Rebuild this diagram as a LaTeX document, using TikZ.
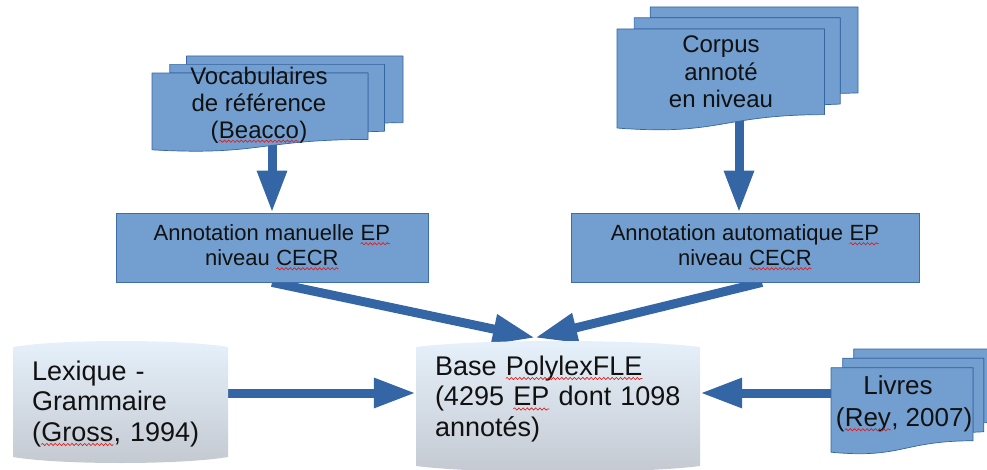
\documentclass[tikz,border=0pt]{standalone}
\usepackage{fontspec}
\setmainfont{Liberation Sans}
\usetikzlibrary{arrows.meta,decorations.pathmorphing}
\pgfdeclarelayer{bg}
\pgfsetlayers{bg,main}
\definecolor{docfill}{HTML}{729FCF}
\definecolor{docline}{HTML}{3465A4}
\definecolor{arrowblue}{HTML}{3465A4}
\definecolor{cantop}{HTML}{E6F1FB}
\definecolor{canbot}{HTML}{C4C9D1}
\definecolor{txt}{HTML}{111111}
\definecolor{squig}{HTML}{E01B1B}
\tikzset{
  sqline/.style={draw=squig, line width=0.65pt, decorate, decoration={snake, amplitude=1.1pt, segment length=4.2pt}},
  docshape/.style={fill=docfill, draw=docline, line width=0.7pt, line join=round},
  boxnode/.style={shape=rectangle, fill=docfill, draw=docline!85!docfill, line width=0.8pt, text=txt, align=center, inner sep=0pt, font=\fontsize{22}{25}\selectfont},
  doctext/.style={shape=rectangle, text=txt, align=center, inner sep=0pt},
  cantext/.style={shape=rectangle, text=txt, align=left, inner ysep=0pt, inner xsep=19pt, font=\fontsize{27}{30.5}\selectfont},
  canshade/.style={top color=cantop, bottom color=canbot, draw=none},
  arr/.style={draw=arrowblue, line width=9pt, -{Triangle[width=28pt,length=42pt]}},
}
\newcommand\sq[1]{\tikz[baseline=(sqw.base)]{\node[shape=rectangle, inner sep=0pt, outer sep=0pt, minimum width=0pt, minimum height=0pt, text width=, align=none, anchor=base, draw=none, fill=none] (sqw) {#1}; \draw[sqline] ([yshift=-3pt]sqw.base west) -- ([yshift=-3pt]sqw.base east);}}
\newcommand\multidoc[4]{%
  \pgfmathsetmacro\mdocx{#3/216}\pgfmathsetmacro\mdocy{#4/216}%
  \begin{scope}[shift={(#1,#2)}, x=\mdocx pt, y=-\mdocy pt]
    \path[docshape] (29.72,18.15) -- (29.72,0) -- (216,0) -- (216,143.92) -- (200,144.67) -- (200,18.15) -- cycle;
    \path[docshape] (15.32,36.75) -- (15.32,18.15) -- (200,18.15) -- (200,162.52) -- (185.95,163.52) -- (185.95,36.75) -- cycle;
    \path[docshape] (0,36.75) -- (185.95,36.75) -- (185.95,180.22) .. controls (92.98,180.22) and (92.98,216) .. (0,202.64) -- cycle;
  \end{scope}}
\begin{document}
\begin{tikzpicture}[x=1pt,y=-1pt]
\useasboundingbox (0,0) rectangle (987,470);
\clip (0,0) rectangle (987,470);

% cylinders
\path[canshade] (13,347) .. controls (60,339) and (181,339) .. (228,347) -- (228,457) .. controls (181,465) and (60,465) .. (13,457) -- cycle;
\node[cantext, text width=177pt, minimum height=126pt] (lex) at (120.5,404) {Lexique -\\Grammaire\\(\sq{Gross}, 1994)};

\path[canshade] (416,347) .. controls (479,339) and (637,339) .. (700,347) -- (700,466) .. controls (637,474) and (479,474) .. (416,466) -- cycle;
\node[cantext, text width=246pt, minimum height=116pt] (base) at (558,399) {Base \sq{PolylexFLE}\\(4295 \sq{EP} dont 1098\\annotés)};

% boxes
\node[boxnode, minimum width=312pt, minimum height=69pt] (box1) at (272,247.5) {Annotation manuelle \sq{EP}\\niveau \sq{CECR}};
\node[boxnode, minimum width=348pt, minimum height=69pt] (box2) at (745,247.5) {Annotation automatique \sq{EP}\\niveau \sq{CECR}};

% documents
\multidoc{152}{56}{251}{100}
\node[doctext, font=\fontsize{24}{27}\selectfont] (doc1) at (259,105) {Vocabulaires\\de référence\\(\sq{Beacco})};
\multidoc{617}{7}{241}{129}
\node[doctext, font=\fontsize{24}{27.5}\selectfont] (doc2) at (721,72) {Corpus\\annoté\\en niveau};
\multidoc{831}{349}{165}{110}
\node[doctext, font=\fontsize{26}{32}\selectfont] (doc3) at (904,404) {Livres\hspace*{12pt}\\(\sq{Rey}, 2007)};

% connectors
\begin{pgfonlayer}{bg}
\coordinate (t2) at ([xshift=-6pt]box2.north);
\draw[arr] (box1.north |- doc1.center) -- (box1.north);
\draw[arr] (t2 |- doc2.center) -- (t2);
\coordinate (conv1) at ([xshift=-23pt,yshift=3pt]base.north);
\coordinate (s2) at ([xshift=17pt]box2.south);
\draw[arr] (box1.south) -- (conv1);
\draw[arr] (s2) -- (conv1);
\coordinate (l1) at ([yshift=11pt]lex.east);
\draw[arr] (l1) -- (l1 -| base.west);
\coordinate (l3) at ([yshift=11pt]doc3.center);
\draw[arr] (l3) -- (l3 -| base.east);
\end{pgfonlayer}
\end{tikzpicture}
\end{document}
